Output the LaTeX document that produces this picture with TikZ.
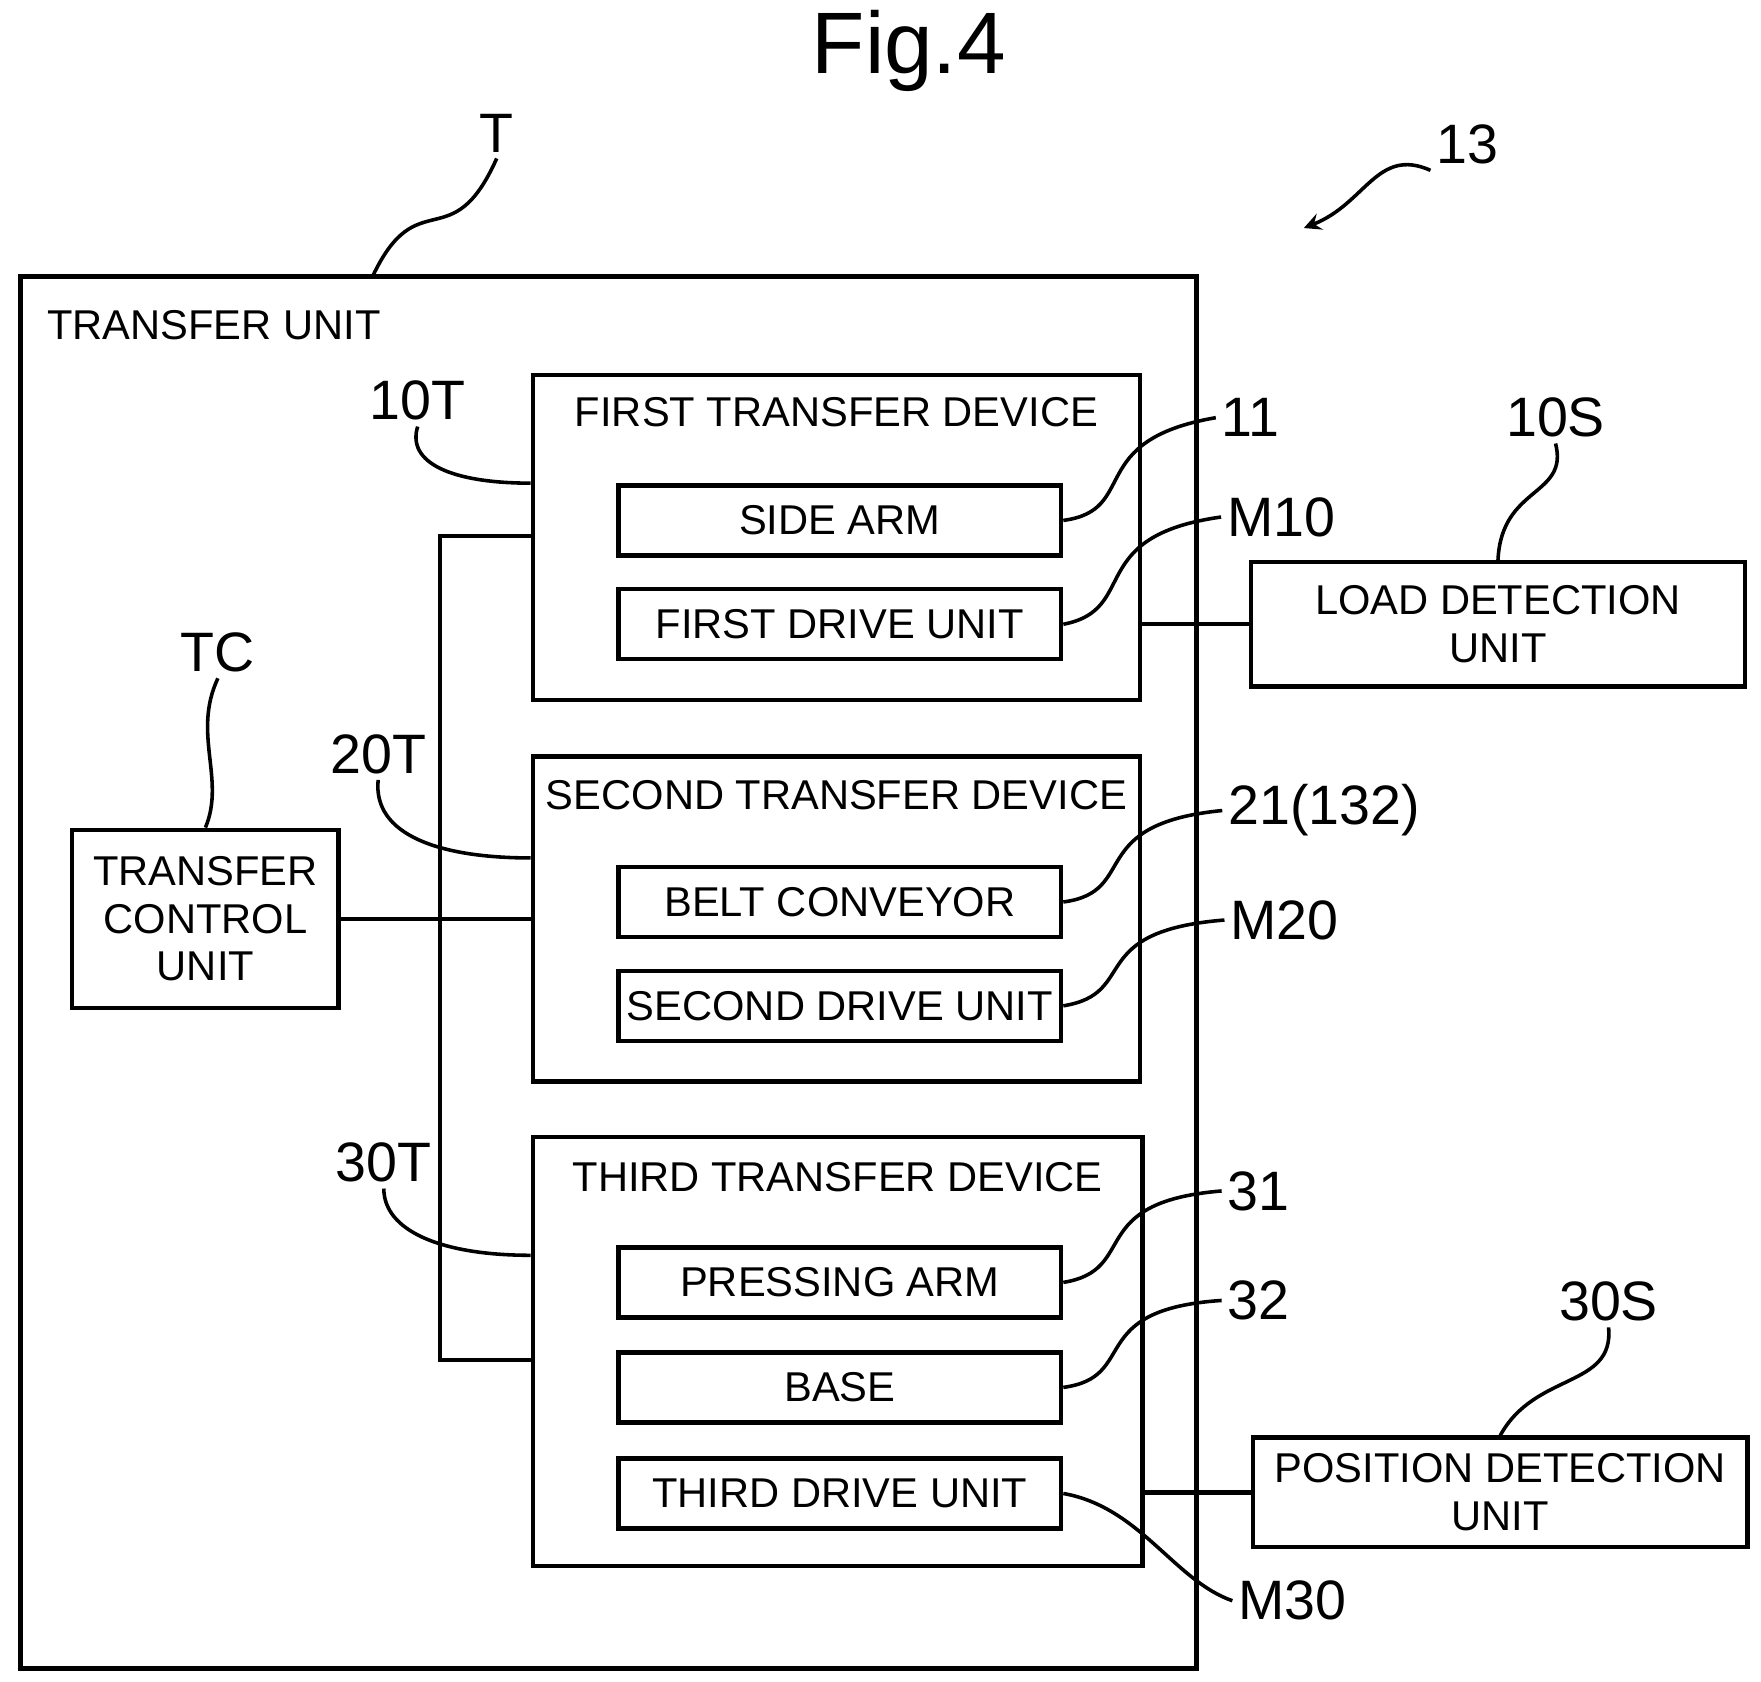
\documentclass[tikz,border=0pt]{standalone}
\usepackage{fontspec}
\setmainfont{Liberation Sans}
\usetikzlibrary{positioning,calc}
\begin{document}
\begin{tikzpicture}[x=0.1mm,y=-0.1mm,>=stealth,line width=1.1pt]

    \tikzstyle{box}=[draw=black, line width=1.1pt, inner sep=0pt, align=center, font=\fontsize{10.5}{12}\selectfont]
    \tikzstyle{part}=[box, minimum width=39.2mm, minimum height=6.2mm]
    \tikzstyle{device}=[box, minimum width=53.8mm, minimum height=28.8mm]
    \tikzstyle{tag}=[font=\fontsize{14}{16}\selectfont, inner sep=1pt]
    \tikzstyle{lead}=[line width=0.9pt]
    \tikzstyle{wire}=[line width=1.1pt]

    \useasboundingbox (0,0) rectangle (1560,1490);

    % Title
    \node at (805,45) (fig) {\fontsize{22}{24}\selectfont Fig.4};

    % Outer unit
    \draw (18,245) rectangle (1060,1478);
    \node[box, draw=none, anchor=west] at (40,288) (Tlbl) {TRANSFER UNIT};

    % Transfer devices
    \node[device] at (741,476) (D1) {};
    \node[box, draw=none] at (741,365) {FIRST TRANSFER DEVICE};
    \node[part] at (744,461) (A11) {SIDE ARM};
    \node[part] at (744,553) (M10) {FIRST DRIVE UNIT};

    \node[device] at (741,814) (D2) {};
    \node[box, draw=none] at (741,704) {SECOND TRANSFER DEVICE};
    \node[part] at (744,799) (B21) {BELT CONVEYOR};
    \node[part] at (744,891) (M20) {SECOND DRIVE UNIT};

    \node[device, minimum width=54mm, minimum height=38mm] at (742,1197) (D3) {};
    \node[box, draw=none] at (742,1043) {THIRD TRANSFER DEVICE};
    \node[part] at (744,1136) (P31) {PRESSING ARM};
    \node[part] at (744,1229) (B32) {BASE};
    \node[part] at (744,1323) (M30) {THIRD DRIVE UNIT};

    % Control and sensors
    \node[box, minimum width=23.6mm, minimum height=15.8mm] at (182,814) (TC) {TRANSFER\\CONTROL\\UNIT};
    \node[box, minimum width=43.8mm, minimum height=11mm] at (1327,553) (S10) {LOAD DETECTION\\UNIT};
    \node[box, minimum width=43.8mm, minimum height=9.7mm] at (1329,1322) (S30) {POSITION DETECTION\\UNIT};

    % Wiring
    \coordinate (busTop) at (390,475);
    \coordinate (busBot) at (390,1205);
    \draw[wire] (D1.west |- busTop) -- (busTop) -- (busBot) -- (D3.west |- busBot);
    \draw[wire] (TC.east) -- (D2.west);
    \draw[wire] (D1.east |- S10.west) -- (S10.west);
    \draw[wire] (D3.east |- S30.west) -- (S30.west);

    % Reference labels
    \node[tag] at (440,118) (lT) {T};
    \node[tag] at (1300,128) (l13) {13};
    \node[tag] at (370,355) (l10T) {10T};
    \node[tag] at (335,668) (l20T) {20T};
    \node[tag] at (340,1030) (l30T) {30T};
    \node[tag] at (193,578) (lTC) {TC};
    \node[tag] at (1108,370) (l11) {11};
    \node[tag] at (1135,458) (lM10) {M10};
    \node[tag] at (1378,370) (l10S) {10S};
    \node[tag] at (1173,718) (l21) {21(132)};
    \node[tag] at (1138,815) (lM20) {M20};
    \node[tag] at (1115,1055) (l31) {31};
    \node[tag] at (1115,1152) (l32) {32};
    \node[tag] at (1425,1153) (l30S) {30S};
    \node[tag] at (1145,1418) (lM30) {M30};

    % Leaders
    \draw[lead] (330,245) .. controls (370,160) and (400,230) .. (lT.south);
    \draw[lead,->] (l13.south west) .. controls (1220,130) and (1210,180) .. (1155,202);
    \draw[lead] (D1.west |- 0,428) .. controls (400,428) and (360,410) .. (l10T.south);
    \draw[lead] (D2.west |- 0,760) .. controls (390,760) and (330,740) .. (l20T.south);
    \draw[lead] (D3.west |- 0,1112) .. controls (390,1112) and (340,1090) .. (l30T.south);
    \draw[lead] (TC.north) .. controls (200,690) and (170,650) .. (lTC.south);
    \draw[lead] (A11.east) .. controls (1010,452) and (960,390) .. (l11.west);
    \draw[lead] (M10.east) .. controls (1010,540) and (960,475) .. (lM10.west);
    \draw[lead] (S10.north) .. controls (1330,430) and (1390,440) .. (l10S.south);
    \draw[lead] (B21.east) .. controls (1010,790) and (960,730) .. (l21.west);
    \draw[lead] (M20.east) .. controls (1010,880) and (960,825) .. (lM20.west);
    \draw[lead] (P31.east) .. controls (1010,1125) and (960,1065) .. (l31.west);
    \draw[lead] (B32.east) .. controls (1010,1220) and (960,1160) .. (l32.west);
    \draw[lead] (S30.north) .. controls (1360,1215) and (1430,1230) .. (l30S.south);
    \draw[lead] (M30.east) .. controls (1010,1335) and (1040,1400) .. (lM30.west);

\end{tikzpicture}
\end{document}
